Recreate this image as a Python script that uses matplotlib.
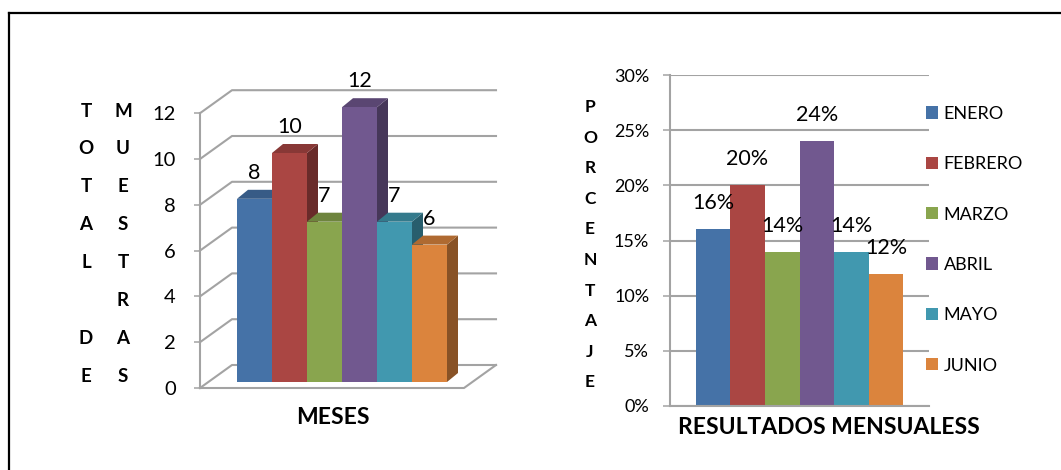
import matplotlib.pyplot as plt
import numpy as np
from matplotlib.colors import to_rgb
from matplotlib.lines import Line2D
from matplotlib.patches import Polygon

meses = ["ENERO", "FEBRERO", "MARZO", "ABRIL", "MAYO", "JUNIO"]
muestras = [8, 10, 7, 12, 7, 6]
porcentaje = [16, 20, 14, 24, 14, 12]
colores = ["#4572A7", "#AA4643", "#89A54E", "#71588F", "#4198AF", "#DB843D"]
ticks_muestras = [0, 2, 4, 6, 8, 10, 12]
ticks_porcentaje = [0, 5, 10, 15, 20, 25, 30]
label_izq = [("TOTAL DE", 86), ("MUESTRAS", 123)]
label_der = "PORCENTAJE"

W, H = 1061, 470


def fx(px):
    return px / W


def fy(py):
    return 1 - py / H


def shade(c, f):
    r, g, b = to_rgb(c)
    return (r * f, g * f, b * f)


def main():
    plt.rcParams["font.family"] = ["Lato", "DejaVu Sans"]
    fig = plt.figure(figsize=(W / 100, H / 100), dpi=100)

    # outer frame, only top and left edges show in the reference
    fig.add_artist(Line2D([fx(9), 1], [fy(13), fy(13)], color="black", lw=1.6))
    fig.add_artist(Line2D([fx(9), fx(9)], [fy(13), 0], color="black", lw=1.6))

    grid = "#a3a3a3"

    # ---- left: pseudo 3D columns ----
    ux, vy = 35.0, 22.9  # pixels per bar width / per unit
    x0, y0 = 200, 388  # front-left-bottom corner
    ax1 = fig.add_axes([fx(x0), fy(y0 + 8), 320 / W, (y0 + 8 - 66) / H])
    ax1.set_xlim(0, 320 / ux)
    ax1.set_ylim(-8 / vy, (y0 - 66) / vy)

    dx, dy = 32 / ux, 23 / vy  # depth of the box
    wall_r = (496 - x0) / ux
    for t in ticks_muestras:
        ax1.plot([0, dx, wall_r], [t, t + dy, t + dy], color=grid, lw=1.5,
                 zorder=1, clip_on=False)
    ax1.plot([0, wall_r - dx, wall_r], [0, 0, dy], color=grid, lw=1.5,
             zorder=1, clip_on=False)

    bx0, by0 = 37 / ux, 6 / vy
    bdx, bdy = 11 / ux, 9 / vy
    for i, (v, c) in enumerate(zip(muestras, colores)):
        xl = bx0 + i
        xr = xl + 1
        yt = by0 + v
        side = [(xr, by0), (xr + bdx, by0 + bdy), (xr + bdx, yt + bdy), (xr, yt)]
        top = [(xl, yt), (xr, yt), (xr + bdx, yt + bdy), (xl + bdx, yt + bdy)]
        z = 3 + i
        ax1.add_patch(Polygon(side, closed=True, color=shade(c, 0.62), lw=0, zorder=z))
        ax1.add_patch(Polygon(top, closed=True, color=shade(c, 0.8), lw=0, zorder=z))
        ax1.bar(xl, v, width=1, bottom=by0, align="edge", color=c, lw=0, zorder=z)
        ax1.annotate(str(v), (xl + 0.5, yt), xytext=(0, 18.7),
                     textcoords="offset points", ha="center", va="center",
                     fontsize=15.5, zorder=20)

    ax1.set_xticks([])
    ax1.set_yticks(ticks_muestras)
    ax1.tick_params(axis="y", length=4.3, width=1.1, color=grid, labelsize=14.5,
                    pad=13)
    for s in ["top", "right", "bottom"]:
        ax1.spines[s].set_visible(False)
    ax1.spines["left"].set_bounds(0, 12)
    ax1.spines["left"].set_color(grid)
    ax1.spines["left"].set_linewidth(1.5)
    ax1.patch.set_visible(False)

    fig.text(fx(333), fy(417), "MESES", ha="center", va="center",
             fontsize=16.5, fontweight="bold")
    for word, px in label_izq:
        for k, ch in enumerate(word):
            fig.text(fx(px), fy(111 + 37.9 * k), ch, ha="center", va="center",
                     fontsize=13.5, fontweight="bold")

    # ---- right: flat columns ----
    ax2 = fig.add_axes([fx(670), fy(406), 259 / W, 331 / H])
    w = 0.1338
    xs = (np.arange(len(meses)) - 2.5) * w
    vals = np.array(porcentaje) / 100
    ax2.bar(xs, vals, width=w, color=colores, label=meses, lw=0, zorder=2)
    for x, p in zip(xs, porcentaje):
        ax2.annotate(f"{p}%", (x, p / 100), xytext=(0, 18.7),
                     textcoords="offset points", ha="center", va="center",
                     fontsize=15.5, zorder=5)
    ax2.set_xlim(-0.5, 0.5)
    ax2.set_ylim(0, 0.30)
    ax2.set_xticks([])
    ax2.set_yticks([t / 100 for t in ticks_porcentaje])
    ax2.set_yticklabels([f"{t}%" for t in ticks_porcentaje])
    ax2.tick_params(axis="y", length=5, width=1.1, color=grid, labelsize=13,
                    pad=10)
    ax2.yaxis.grid(True, color=grid, lw=1.5)
    ax2.set_axisbelow(True)
    for s in ["top", "right"]:
        ax2.spines[s].set_visible(False)
    for s in ["left", "bottom"]:
        ax2.spines[s].set_color(grid)
        ax2.spines[s].set_linewidth(1.5)

    ax2.legend(loc="upper left", bbox_to_anchor=(fx(926), fy(106)),
               bbox_transform=fig.transFigure, frameon=False, fontsize=13,
               handlelength=0.68, handleheight=0.68, handletextpad=0.3,
               labelspacing=1.9, borderpad=0, borderaxespad=0)

    fig.text(fx(829), fy(428), "RESULTADOS MENSUALESS", ha="center",
             va="center", fontsize=16.5, fontweight="bold")
    for k, ch in enumerate(label_der):
        fig.text(fx(590), fy(107 + 30.6 * k), ch, ha="center", va="center",
                 fontsize=12.5, fontweight="bold")

    fig.savefig("out.png", dpi=100)


if __name__ == "__main__":
    main()
